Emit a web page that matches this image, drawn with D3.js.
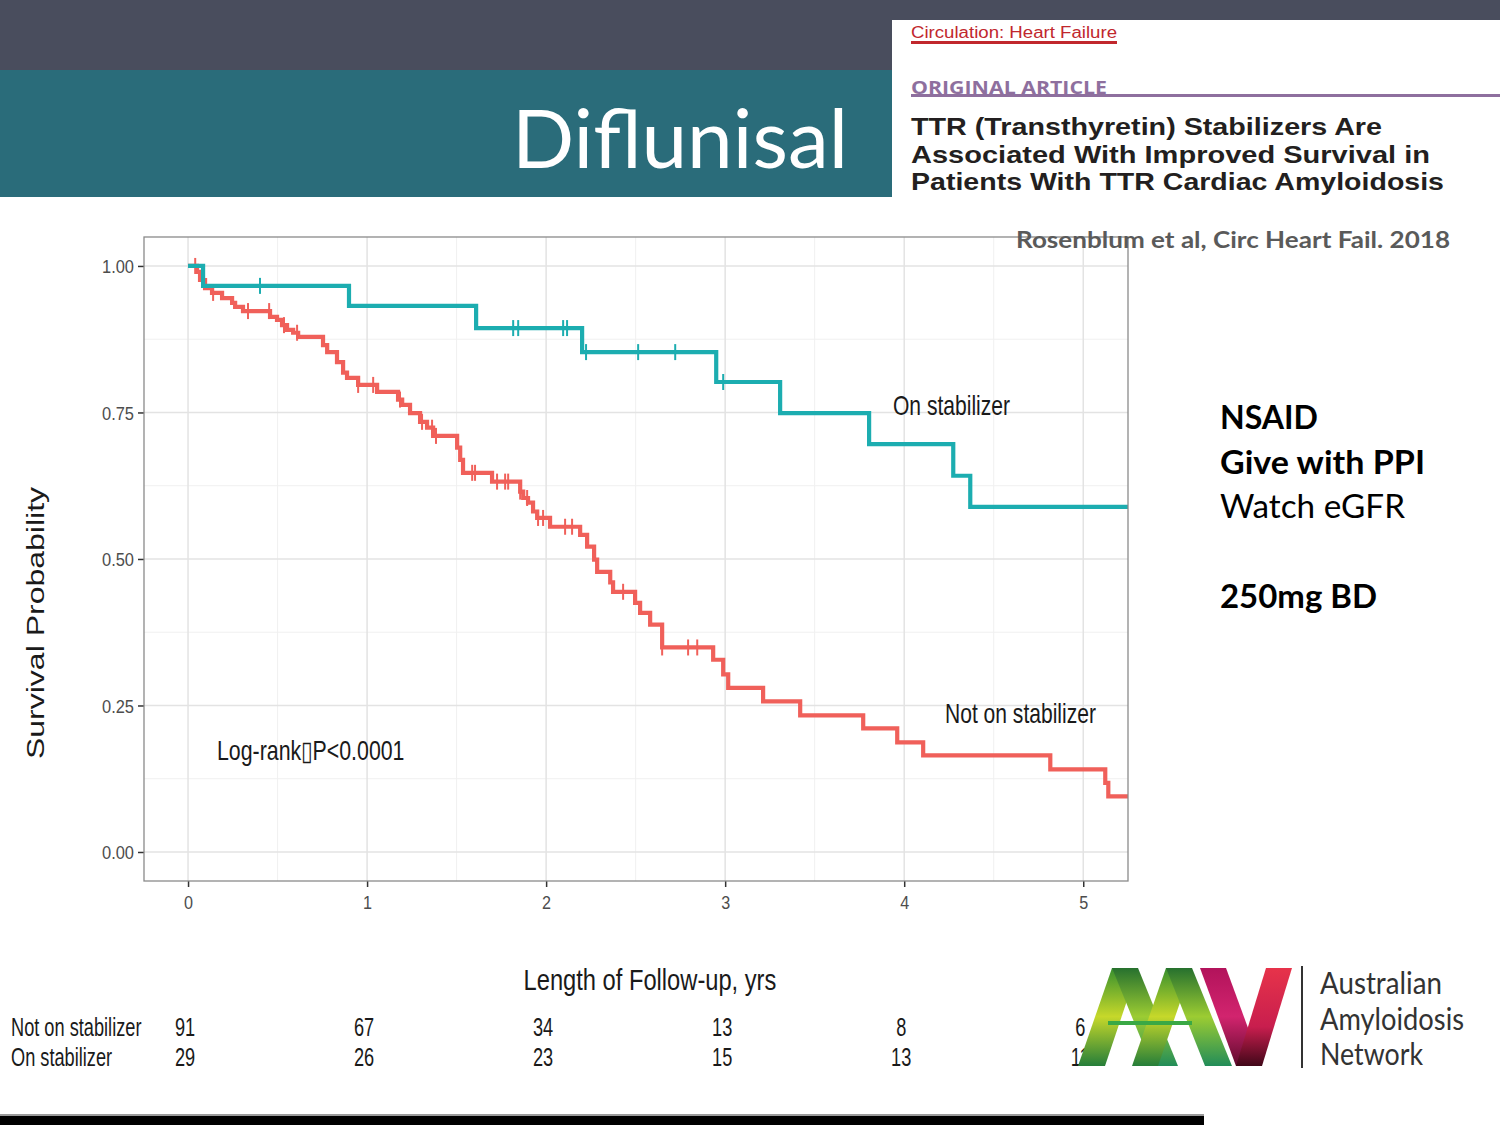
<!DOCTYPE html>
<html>
<head>
<meta charset="utf-8">
<script src="https://cdn.jsdelivr.net/npm/d3@7"></script>
<style>
  html, body { margin: 0; padding: 0; background: #ffffff; }
  svg { display: block; }
</style>
</head>
<body>
<svg id="chart" width="1500" height="1125"></svg>
<script>
// ---------------- DATA ----------------
// Not on stabilizer: step times (years) and survival after each step
const redTimes = [0, 0.05, 0.067, 0.095, 0.134, 0.19, 0.246, 0.263, 0.307, 0.458, 0.497, 0.525, 0.553, 0.587, 0.615,
  0.754, 0.777, 0.832, 0.866, 0.888, 0.950, 1.056, 1.173, 1.196, 1.240, 1.296, 1.335, 1.369, 1.503, 1.520, 1.536,
  1.698, 1.855, 1.872, 1.899, 1.927, 1.950, 2.022, 2.190, 2.229, 2.268, 2.285, 2.358, 2.374, 2.497, 2.525, 2.581,
  2.648, 2.933, 2.989, 3.017, 3.212, 3.419, 3.771, 3.961, 4.106, 4.816, 5.123, 5.140];
const redSurv = [1.0, 0.990, 0.976, 0.962, 0.954, 0.945, 0.937, 0.930, 0.923, 0.913, 0.908, 0.899, 0.891, 0.886, 0.879,
  0.865, 0.853, 0.836, 0.818, 0.809, 0.797, 0.785, 0.772, 0.763, 0.749, 0.734, 0.724, 0.710, 0.690, 0.669, 0.647,
  0.632, 0.615, 0.604, 0.596, 0.581, 0.570, 0.555, 0.541, 0.521, 0.499, 0.478, 0.460, 0.444, 0.425, 0.408, 0.388,
  0.349, 0.328, 0.303, 0.280, 0.257, 0.233, 0.211, 0.187, 0.165, 0.141, 0.118, 0.095];
const redCensor = [0.04, 0.08, 0.14, 0.335, 0.453, 0.536, 0.609, 0.95, 1.034, 1.184, 1.307, 1.363, 1.385, 1.587, 1.603,
  1.726, 1.771, 1.788, 1.855, 1.894, 1.955, 1.983, 2.106, 2.145, 2.430, 2.648, 2.793, 2.844];

// On stabilizer
const tealTimes = [0, 0.084, 0.899, 1.609, 2.201, 2.950, 3.307, 3.804, 4.274, 4.369];
const tealSurv  = [1.0, 0.966, 0.932, 0.894, 0.853, 0.802, 0.749, 0.696, 0.642, 0.589];
const tealCensor = [0.402, 1.816, 1.844, 2.095, 2.117, 2.223, 2.514, 2.721, 2.989];

const endTime = 5.25;
const xTicks = [0, 1, 2, 3, 4, 5];
const yTicks = [0, 0.25, 0.5, 0.75, 1.0];
const yTickLabels = ["0.00", "0.25", "0.50", "0.75", "1.00"];

const riskGroups = ["Not on stabilizer", "On stabilizer"];
const riskNot = [91, 67, 34, 13, 8, 6];
const riskOn  = [29, 26, 23, 15, 13, 11];

const rightNotes = [
  {text: "NSAID", bold: true},
  {text: "Give with PPI", bold: true},
  {text: "Watch eGFR", bold: false},
  {text: "", bold: false},
  {text: "250mg BD", bold: true}
];
const titleLines = ["TTR (Transthyretin) Stabilizers Are", "Associated With Improved Survival in", "Patients With TTR Cardiac Amyloidosis"];

// ---------------- DRAW ----------------
const svg = d3.select("#chart");
const RED = "#f0605a", TEAL = "#1cadb0";
const AX = "Liberation Sans, Arial, sans-serif";

// Header blocks
svg.append("rect").attr("x", 0).attr("y", 0).attr("width", 1500).attr("height", 20).attr("fill", "#494d5d");
svg.append("rect").attr("x", 0).attr("y", 0).attr("width", 892).attr("height", 70).attr("fill", "#494d5d");
svg.append("rect").attr("x", 0).attr("y", 70).attr("width", 892).attr("height", 127).attr("fill", "#2a6c7a");
svg.append("text").attr("x", 848).attr("y", 168).attr("text-anchor", "end")
  .attr("font-family", "Lato, 'Open Sans', sans-serif").attr("font-size", 82).attr("fill", "#ffffff")
  .attr("textLength", 336).attr("lengthAdjust", "spacingAndGlyphs").text("Diflunisal");

// Article snippet
svg.append("text").attr("x", 911).attr("y", 38).attr("font-family", AX).attr("font-size", 16)
  .attr("fill", "#c1272d").attr("textLength", 206).attr("lengthAdjust", "spacingAndGlyphs").text("Circulation: Heart Failure");
svg.append("rect").attr("x", 911).attr("y", 41).attr("width", 206).attr("height", 3).attr("fill", "#c1272d");
svg.append("text").attr("x", 911).attr("y", 94).attr("font-family", "'Open Sans', sans-serif").attr("font-weight", "bold")
  .attr("font-size", 17).attr("fill", "#8e6f9e").attr("textLength", 196).attr("lengthAdjust", "spacingAndGlyphs").text("ORIGINAL ARTICLE");
svg.append("rect").attr("x", 911).attr("y", 94).attr("width", 589).attr("height", 3).attr("fill", "#8e6f9e");
const titleW = [471, 519, 533];
titleLines.forEach((t, i) => {
  svg.append("text").attr("x", 911).attr("y", 135 + i * 27.5)
    .attr("font-family", AX).attr("font-weight", "bold").attr("font-size", 24).attr("fill", "#231f20")
    .attr("textLength", titleW[i]).attr("lengthAdjust", "spacingAndGlyphs").text(t);
});

// Plot area
const x = d3.scaleLinear().domain([-0.246, 5.25]).range([144, 1128]);
const y = d3.scaleLinear().domain([-0.0495, 1.0494]).range([881, 237]);

const grid = svg.append("g");
const minorX = d3.range(0.5, 5.25, 1);
const minorY = [0.125, 0.375, 0.625, 0.875];
grid.selectAll(".mx").data(minorX).enter().append("line")
  .attr("x1", d => x(d)).attr("x2", d => x(d)).attr("y1", 237).attr("y2", 881)
  .attr("stroke", "#f0f0f0").attr("stroke-width", 1);
grid.selectAll(".my").data(minorY).enter().append("line")
  .attr("x1", 144).attr("x2", 1128).attr("y1", d => y(d)).attr("y2", d => y(d))
  .attr("stroke", "#f0f0f0").attr("stroke-width", 1);
grid.selectAll(".Mx").data(xTicks).enter().append("line")
  .attr("x1", d => x(d)).attr("x2", d => x(d)).attr("y1", 237).attr("y2", 881)
  .attr("stroke", "#e3e3e3").attr("stroke-width", 1.5);
grid.selectAll(".My").data(yTicks).enter().append("line")
  .attr("x1", 144).attr("x2", 1128).attr("y1", d => y(d)).attr("y2", d => y(d))
  .attr("stroke", "#e3e3e3").attr("stroke-width", 1.5);

// Axes
const xAxis = svg.append("g").attr("transform", "translate(0,881)")
  .call(d3.axisBottom(x).tickValues(xTicks).tickSize(6).tickFormat(d3.format("d")));
const yAxis = svg.append("g").attr("transform", "translate(144,0)")
  .call(d3.axisLeft(y).tickValues(yTicks).tickSize(6).tickFormat((d, i) => yTickLabels[i]));
[xAxis, yAxis].forEach(g => {
  g.select(".domain").remove();
  g.selectAll(".tick line").attr("stroke", "#333333").attr("stroke-width", 1.5);
  g.selectAll(".tick text").attr("font-family", AX).attr("font-size", 19).attr("fill", "#4d4d4d");
});
xAxis.selectAll(".tick text").attr("y", 12).attr("dy", "0.85em")
  .attr("textLength", function () { return this.textContent.length * 9; })
  .attr("lengthAdjust", "spacingAndGlyphs");
yAxis.selectAll(".tick text").attr("x", -10).attr("dy", "0.36em")
  .attr("textLength", 32).attr("lengthAdjust", "spacingAndGlyphs");

// Curves
const line = d3.line().x(d => x(d[0])).y(d => y(d[1])).curve(d3.curveStepAfter);
function stepAt(times, surv, t) {
  let v = surv[0];
  for (let i = 0; i < times.length; i++) { if (times[i] <= t) v = surv[i]; }
  return v;
}
function drawCurve(times, surv, censor, color) {
  const pts = times.map((t, i) => [t, surv[i]]);
  pts.push([endTime, surv[surv.length - 1]]);
  svg.append("path").datum(pts).attr("d", line).attr("fill", "none")
    .attr("stroke", color).attr("stroke-width", 4.2).attr("stroke-linejoin", "miter");
  svg.append("g").selectAll("line").data(censor).enter().append("line")
    .attr("x1", d => x(d)).attr("x2", d => x(d))
    .attr("y1", d => y(stepAt(times, surv, d)) - 8).attr("y2", d => y(stepAt(times, surv, d)) + 8)
    .attr("stroke", color).attr("stroke-width", 2);
}
drawCurve(redTimes, redSurv, redCensor, RED);
drawCurve(tealTimes, tealSurv, tealCensor, TEAL);

// Panel border
svg.append("rect").attr("x", 144).attr("y", 237).attr("width", 984).attr("height", 644)
  .attr("fill", "none").attr("stroke", "#8a8a8a").attr("stroke-width", 1.3);

// Squeezed text helper
function sq(txt, px, py, size, sx, anchor, color) {
  return svg.append("text").attr("transform", `translate(${px},${py}) scale(${sx},1)`)
    .attr("font-family", AX).attr("font-size", size).attr("fill", color || "#1a1a1a")
    .attr("text-anchor", anchor || "start").text(txt);
}
sq("On stabilizer", 893, 415, 27, 0.78, "start");
sq("Not on stabilizer", 945, 723, 27, 0.78, "start");
sq("Log-rank\u25AFP<0.0001", 217, 760, 27, 0.79, "start");

// Axis titles
svg.append("text").attr("transform", "translate(44,623) scale(0.72,1) rotate(-90)")
  .attr("font-family", AX).attr("font-size", 32).attr("fill", "#1a1a1a").attr("text-anchor", "middle")
  .text("Survival Probability");
sq("Length of Follow-up, yrs", x(2.58), 990, 30, 0.79, "middle");

// Risk table
riskGroups.forEach((g, i) => sq(g, 11, 1036 + i * 30, 26, 0.7, "start"));
[riskNot, riskOn].forEach((arr, r) => {
  arr.forEach((v, i) => sq(String(v), x(xTicks[i]) - 3, 1036 + r * 30, 26, 0.7, "middle"));
});

// Citation
svg.append("text").attr("x", 1016).attr("y", 248).attr("font-family", "Lato, 'Open Sans', sans-serif")
  .attr("font-weight", "bold").attr("font-size", 23).attr("fill", "#5a5a5a")
  .attr("textLength", 434).attr("lengthAdjust", "spacingAndGlyphs").text("Rosenblum et al, Circ Heart Fail. 2018");

// Right notes
const noteW = {"NSAID": 98, "Give with PPI": 205, "Watch eGFR": 185, "250mg BD": 157};
rightNotes.forEach((n, i) => {
  if (!n.text) return;
  svg.append("text").attr("x", 1220).attr("y", 429 + i * 44.7)
    .attr("font-family", "Lato, 'Open Sans', sans-serif").attr("font-weight", n.bold ? "bold" : "normal")
    .attr("font-size", 32).attr("fill", "#000000")
    .attr("textLength", noteW[n.text]).attr("lengthAdjust", "spacingAndGlyphs").text(n.text);
});

// Logo
const defs = svg.append("defs");
function grad(id, stops, x1, y1, x2, y2) {
  const g = defs.append("linearGradient").attr("id", id).attr("gradientUnits", "userSpaceOnUse")
    .attr("x1", x1).attr("y1", y1).attr("x2", x2).attr("y2", y2);
  stops.forEach(s => g.append("stop").attr("offset", s[0]).attr("stop-color", s[1]));
}
grad("gA", [[0, "#2e8b2e"], [0.5, "#c6d82a"], [1, "#1f7a3a"]], 0, 965, 0, 1068);
grad("gB", [[0, "#1f6b2e"], [0.5, "#9ccc32"], [1, "#1d8a5a"]], 0, 965, 0, 1068);
grad("gV", [[0, "#b0125a"], [0.5, "#d2246e"], [1, "#5a0a2a"]], 0, 965, 0, 1068);
grad("gV2", [[0, "#e8344a"], [0.6, "#c81e4e"], [1, "#3a0616"]], 0, 965, 0, 1068);
const lg = svg.append("g");
function ribbon(pts, fill) {
  lg.append("path").attr("d", "M" + pts.map(p => p.join(",")).join("L") + "Z").attr("fill", fill);
}
ribbon([[1078, 1066], [1105, 1066], [1138, 968], [1112, 968]], "url(#gA)");
ribbon([[1112, 968], [1138, 968], [1178, 1066], [1152, 1066]], "url(#gB)");
ribbon([[1132, 1066], [1158, 1066], [1192, 968], [1166, 968]], "url(#gA)");
ribbon([[1166, 968], [1192, 968], [1232, 1066], [1205, 1066]], "url(#gB)");
ribbon([[1200, 968], [1226, 968], [1262, 1066], [1236, 1066]], "url(#gV)");
ribbon([[1236, 1066], [1262, 1066], [1292, 968], [1266, 968]], "url(#gV2)");
lg.append("rect").attr("x", 1108).attr("y", 1021).attr("width", 84).attr("height", 4).attr("fill", "#3aa845");
lg.append("rect").attr("x", 1301).attr("y", 966).attr("width", 2).attr("height", 102).attr("fill", "#333333");
["Australian", "Amyloidosis", "Network"].forEach((t, i) => {
  svg.append("text").attr("x", 1320).attr("y", 994 + i * 35.5)
    .attr("font-family", "Lato, 'Open Sans', sans-serif").attr("font-size", 31).attr("fill", "#333333")
    .attr("textLength", [122, 144, 103][i]).attr("lengthAdjust", "spacingAndGlyphs").text(t);
});

// Bottom bar
svg.append("rect").attr("x", 0).attr("y", 1114).attr("width", 1204).attr("height", 2).attr("fill", "#9a9a9a");
svg.append("rect").attr("x", 0).attr("y", 1116).attr("width", 1204).attr("height", 9).attr("fill", "#000000");
</script>
</body>
</html>
